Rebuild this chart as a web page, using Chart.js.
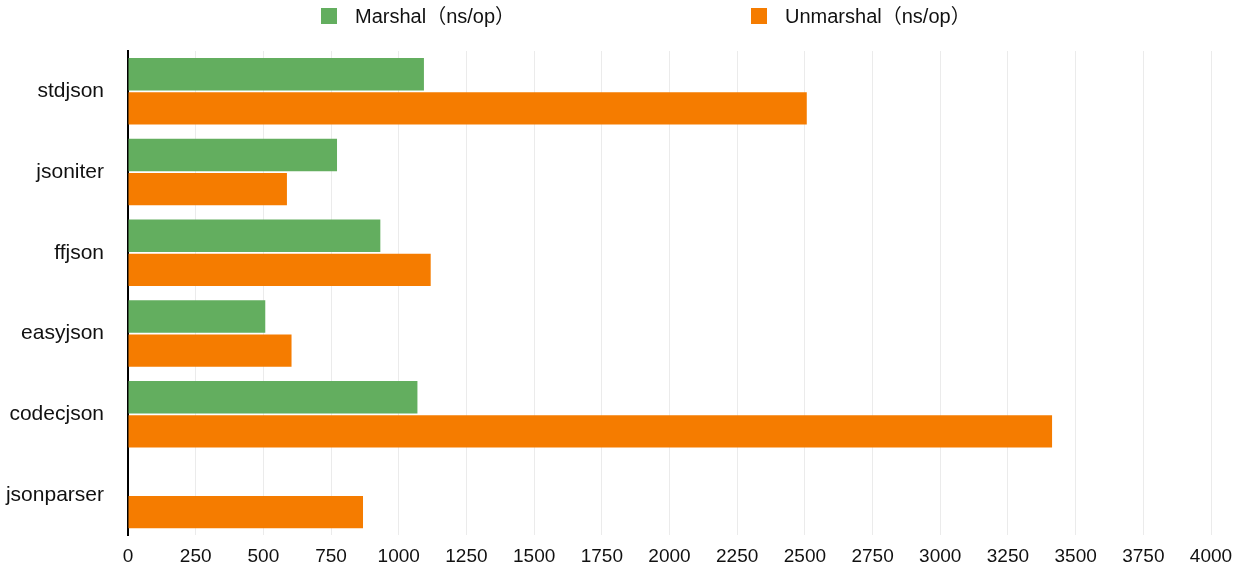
<!DOCTYPE html>
<html>
<head>
<meta charset="utf-8">
<script src="https://cdn.jsdelivr.net/npm/chart.js@4.4.1/dist/chart.umd.min.js"></script>
<style>
html,body{margin:0;padding:0;background:#fff;}
#wrap{width:1235px;height:572px;position:relative;}
</style>
</head>
<body>
<div id="wrap"><canvas id="c"></canvas></div>
<script>
const categories = ['stdjson', 'jsoniter', 'ffjson', 'easyjson', 'codecjson', 'jsonparser'];
const marshalValues = [1093, 772, 932, 507, 1069, null];
const unmarshalValues = [2507, 587, 1118, 604, 3413, 868];
const seriesLabels = ['Marshal（ns/op）', 'Unmarshal（ns/op）'];
const xTickMax = 4000;
const xTickStep = 250;

const FONT = '"Liberation Sans", Arial, "Noto Sans CJK SC", sans-serif';
const GREEN = '#63ae5f';
const ORANGE = '#f57c00';

const legendPlugin = {
  id: 'customLegend',
  afterDraw(chart) {
    const ctx = chart.ctx;
    const xs = [321, 751];
    ctx.save();
    ctx.font = '20px ' + FONT;
    ctx.textBaseline = 'middle';
    ctx.textAlign = 'left';
    chart.data.datasets.forEach((ds, i) => {
      ctx.fillStyle = ds.backgroundColor;
      ctx.fillRect(xs[i], 8, 16, 16);
      ctx.fillStyle = '#111';
      ctx.fillText(ds.label, xs[i] + 34, 17);
    });
    ctx.restore();
  }
};

new Chart(document.getElementById('c'), {
  type: 'bar',
  data: {
    labels: categories,
    datasets: [
      { label: seriesLabels[0], data: marshalValues, backgroundColor: GREEN, borderWidth: 0 },
      { label: seriesLabels[1], data: unmarshalValues, backgroundColor: ORANGE, borderWidth: 0 }
    ]
  },
  options: {
    indexAxis: 'y',
    responsive: true,
    maintainAspectRatio: false,
    animation: false,
    categoryPercentage: 0.845,
    barPercentage: 0.95,
    layout: { padding: { top: 51, right: 0, bottom: 0, left: 0 } },
    plugins: {
      legend: { display: false },
      tooltip: { enabled: false }
    },
    scales: {
      x: {
        min: 0, max: xTickMax,
        afterFit: (scale) => { scale.height = 34; scale.paddingRight = 24; },
        ticks: { stepSize: xTickStep, color: '#111', font: { family: FONT, size: 19 }, padding: 10, maxRotation: 0, autoSkip: false,
                 callback: (v) => String(v) },
        grid: { color: '#ebebeb', lineWidth: 1, drawTicks: false },
        border: { display: false }
      },
      y: {
        afterFit: (scale) => { scale.width = 128; },
        ticks: { color: '#111', font: { family: FONT, size: 21 }, padding: 24 },
        grid: { display: false, drawTicks: false },
        border: { display: true, color: '#000', width: 2 }
      }
    }
  },
  plugins: [legendPlugin]
});
</script>
</body>
</html>
